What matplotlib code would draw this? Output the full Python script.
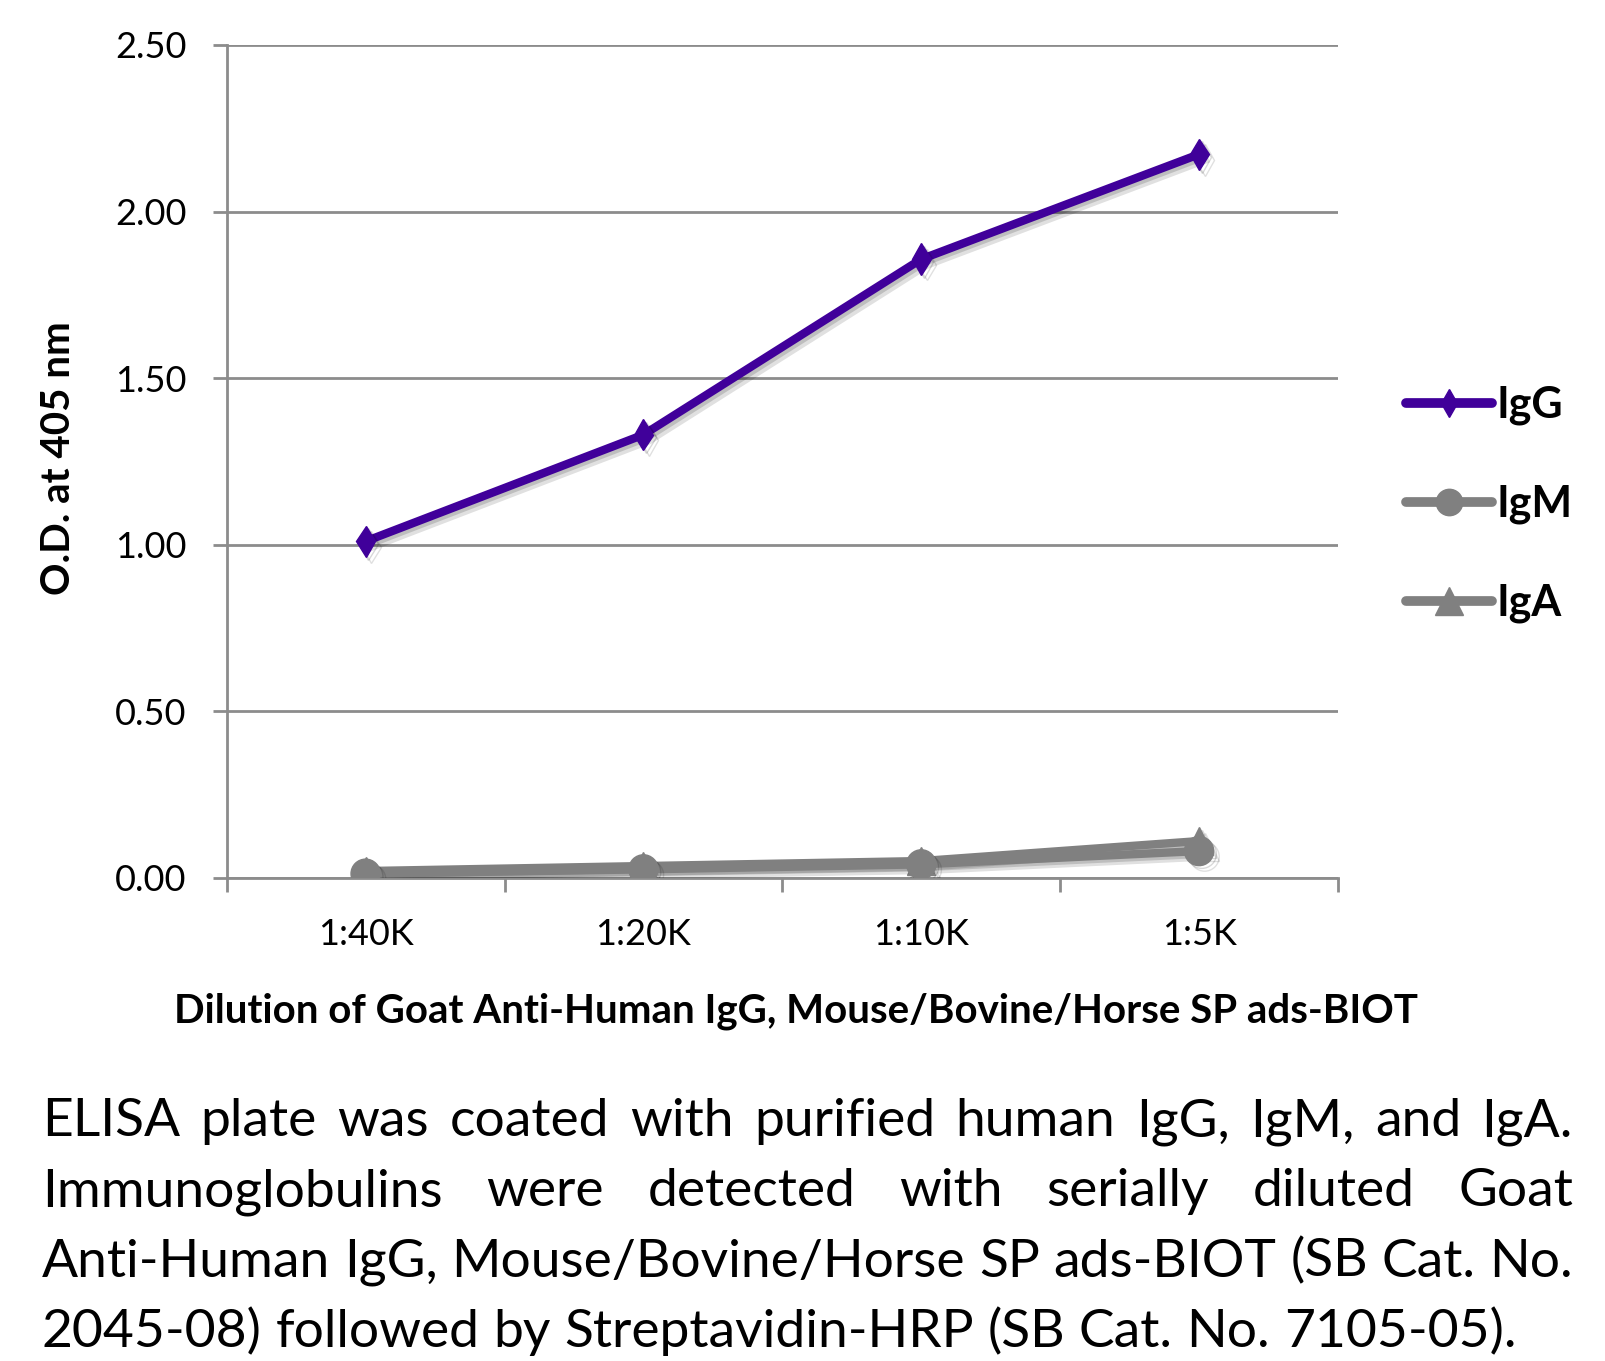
import matplotlib
matplotlib.use("Agg")
import matplotlib.pyplot as plt
import matplotlib.patheffects as pe
from matplotlib.lines import Line2D
from matplotlib import font_manager
import numpy as np

# data
dilutions = ["1:40K", "1:20K", "1:10K", "1:5K"]
igg = [1.01, 1.33, 1.857, 2.172]
igm = [0.012, 0.025, 0.04, 0.08]
iga = [0.02, 0.035, 0.05, 0.11]
y_ticks = [0.0, 0.5, 1.0, 1.5, 2.0, 2.5]
series_names = ["IgG", "IgM", "IgA"]

caption_lines = [
    "ELISA plate was coated with purified human IgG, IgM, and IgA.",
    "Immunoglobulins were detected with serially diluted Goat",
    "Anti-Human IgG, Mouse/Bovine/Horse SP ads-BIOT (SB Cat. No.",
    "2045-08) followed by Streptavidin-HRP (SB Cat. No. 7105-05).",
]
x_title = "Dilution of Goat Anti-Human IgG, Mouse/Bovine/Horse SP ads-BIOT"
y_title = "O.D. at 405 nm"

W, H = 1605, 1361
plt.rcParams['font.family'] = ['Lato', 'DejaVu Sans']

installed = {f.name for f in font_manager.fontManager.ttflist}
cap_font = 'Liberation Sans Narrow' if 'Liberation Sans Narrow' in installed else 'Lato'

fig = plt.figure(figsize=(W / 100, H / 100), dpi=100)
ax = fig.add_axes([226.7 / W, 1 - 877.7 / H, (1338 - 226.7) / W, (877.7 - 45) / H])

purple = '#40009a'
grey = '#808080'
gridc = '#8c8c8c'

# soft drop shadow, two layers
shadow = [pe.SimpleLineShadow(offset=(4, -4), shadow_color='black', alpha=0.12),
          pe.SimpleLineShadow(offset=(2, -2), shadow_color='black', alpha=0.15),
          pe.Normal()]

x = np.arange(len(dilutions))
ax.plot(x, iga, color=grey, lw=6, marker='^', ms=20, path_effects=shadow, zorder=3)
ax.plot(x, igm, color=grey, lw=6, marker='o', ms=21, path_effects=shadow, zorder=4)
ax.plot(x, igg, color=purple, lw=6, marker='d', ms=16, path_effects=shadow, zorder=5)

ax.set_xlim(-0.5, len(dilutions) - 0.5)
ax.set_ylim(0, 2.5)
ax.set_yticks(y_ticks)
ax.set_yticklabels(["%.2f" % v for v in y_ticks])
ax.set_xticks(x)
ax.set_xticklabels(dilutions)
ax.set_xticks(np.arange(len(dilutions) + 1) - 0.5, minor=True)

ax.grid(axis='y', color=gridc, lw=2)
ax.set_axisbelow(True)
for s in ['top', 'right']:
    ax.spines[s].set_visible(False)
for s in ['left', 'bottom']:
    ax.spines[s].set_color(gridc)
    ax.spines[s].set_linewidth(2)

ax.tick_params(axis='y', length=10, width=2, color=gridc, pad=19, labelsize=26)
ax.tick_params(axis='x', which='major', length=0, pad=29, labelsize=26)
ax.tick_params(axis='x', which='minor', length=10, width=2, color=gridc)

fig.text(58 / W, 1 - 458 / H, y_title, rotation=90, ha='center', va='center',
         fontsize=29, fontweight='bold')
fig.text(796 / W, 1 - 1022 / H, x_title, ha='center', va='baseline',
         fontsize=29, fontweight='bold')

handles = [
    Line2D([], [], color=purple, lw=7, marker='d', ms=14, solid_capstyle='round'),
    Line2D([], [], color=grey, lw=7, marker='o', ms=19, solid_capstyle='round'),
    Line2D([], [], color=grey, lw=7, marker='^', ms=20, solid_capstyle='round'),
]
leg = fig.legend(handles, series_names, loc='center left', bbox_to_anchor=(1406 / W, 1 - 504 / H),
                 frameon=False, borderpad=0, borderaxespad=0, handlelength=2.0,
                 handletextpad=0.1, labelspacing=1.36,
                 prop={'family': 'Lato', 'weight': 'bold', 'size': 31})

# justified caption under the chart
r = fig.canvas.get_renderer()
left, right = 42, 1573
cap_size = 39
probe = fig.text(0, 0, "a a", fontsize=cap_size, family=cap_font)
probe2 = fig.text(0, 0, "aa", fontsize=cap_size, family=cap_font)
space = probe.get_window_extent(r).width - probe2.get_window_extent(r).width
probe.remove()
probe2.remove()
widest = 0
for line in caption_lines:
    t = fig.text(0, 0, line, fontsize=cap_size, family=cap_font)
    widest = max(widest, t.get_window_extent(r).width)
    t.remove()
if widest > right - left:
    f = (right - left) / widest
    cap_size *= f
    space *= f

for i, line in enumerate(caption_lines):
    y = 1136 + i * 70.3
    words = line.split()
    ts = [fig.text(0, 1 - y / H, w, fontsize=cap_size, family=cap_font, va='baseline') for w in words]
    widths = [t.get_window_extent(r).width for t in ts]
    if i < len(caption_lines) - 1:
        gap = (right - left - sum(widths)) / (len(words) - 1)
    else:
        gap = space
    xpos = left
    for t, w in zip(ts, widths):
        t.set_x(xpos / W)
        xpos += w + gap

fig.savefig("out.png", dpi=100)
